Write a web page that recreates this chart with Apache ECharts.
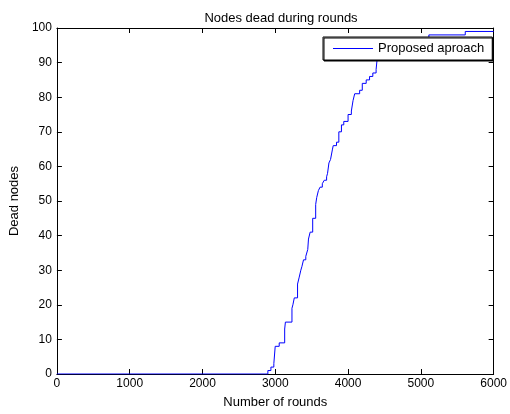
<!DOCTYPE html>
<html>
<head>
<meta charset="utf-8">
<script src="https://cdn.jsdelivr.net/npm/echarts@6/dist/echarts.min.js"></script>
<style>
  html, body { margin: 0; padding: 0; background: #fff; }
  #main { width: 510px; height: 414px; }
</style>
</head>
<body>
<div id="main"></div>
<script>
// round at which the dead-node count steps up, and the new count
const rounds = [0, 2898, 2940, 2980, 2999, 3054, 3129, 3139, 3229, 3242, 3261, 3306, 3329, 3351, 3365, 3388,
  3419, 3446, 3456, 3479, 3514, 3555, 3569, 3592, 3615, 3646, 3673, 3705, 3718, 3737, 3759, 3786, 3796,
  3841, 3873, 3909, 3941, 4000, 4045, 4068, 4091, 4159, 4195, 4249, 4295, 4340, 4385, 4399,
  4450, 4530, 4620, 4720, 4840, 4970, 5110, 5610, 6000]
const deadNodes = [0, 1, 2, 3, 8, 9, 13, 15, 19, 20, 22, 26, 28, 30, 31, 33,
  34, 36, 39, 41, 45, 49, 51, 53, 54, 55, 56, 57, 58, 61, 62, 65, 66,
  67, 70, 72, 73, 75, 76, 79, 81, 82, 84, 85, 86, 87, 88, 91,
  92, 93, 94, 95, 96, 97, 98, 99, 99]
const xTicks = [0, 1000, 2000, 3000, 4000, 5000, 6000]
const yTicks = [0, 10, 20, 30, 40, 50, 60, 70, 80, 90, 100]

const font = 'Liberation Sans, Arial, sans-serif'
const axisBase = {
  axisLine: { show: true, onZero: false, lineStyle: { color: '#000', width: 1 } },
  axisTick: { show: true, inside: true, length: 5, lineStyle: { color: '#000' } },
  splitLine: { show: false }
}

let myChart = echarts.init(document.getElementById('main'))

myChart.setOption({
  animation: false,
  backgroundColor: '#fff',
  title: {
    text: 'Nodes dead during rounds',
    left: 276, top: 7, textAlign: 'center',
    textStyle: { fontFamily: font, fontSize: 13, fontWeight: 'normal', color: '#000' }
  },
  legend: {
    data: ['Proposed aproach'],
    left: 323, top: 37,
    padding: [5, 8, 5, 10],
    icon: 'rect',
    itemWidth: 40, itemHeight: 1, itemGap: 5,
    borderColor: '#000', borderWidth: 1,
    backgroundColor: '#fff',
    shadowColor: '#000', shadowOffsetX: 1, shadowOffsetY: 1, shadowBlur: 0,
    textStyle: { fontFamily: font, fontSize: 13, color: '#000' }
  },
  grid: { left: 55, right: 13, top: 28, bottom: 37, containLabel: false },
  xAxis: [
    Object.assign({}, axisBase, {
      type: 'value', min: 0, max: 6000, interval: 1000, position: 'bottom',
      name: 'Number of rounds', nameLocation: 'middle', nameGap: 22,
      nameTextStyle: { fontFamily: font, fontSize: 13, color: '#000' },
      axisLabel: { fontFamily: font, fontSize: 12, color: '#000', margin: 4,
        formatter: v => xTicks.includes(v) ? String(v) : '' }
    }),
    Object.assign({}, axisBase, {
      type: 'value', min: 0, max: 6000, interval: 1000, position: 'top',
      axisLabel: { show: false }
    })
  ],
  yAxis: [
    Object.assign({}, axisBase, {
      type: 'value', min: 0, max: 100, interval: 10, position: 'left',
      name: 'Dead nodes', nameLocation: 'middle', nameGap: 33,
      nameTextStyle: { fontFamily: font, fontSize: 13, color: '#000' },
      axisLabel: { fontFamily: font, fontSize: 12, color: '#000', margin: 5,
        formatter: v => yTicks.includes(v) ? String(v) : '' }
    }),
    Object.assign({}, axisBase, {
      type: 'value', min: 0, max: 100, interval: 10, position: 'right',
      axisLabel: { show: false }
    })
  ],
  series: [{
    name: 'Proposed aproach',
    type: 'line',
    step: 'end',
    xAxisIndex: 0, yAxisIndex: 0,
    symbol: 'none',
    color: '#0000ff',
    lineStyle: { color: '#0000ff', width: 1 },
    data: rounds.map((r, i) => [r, deadNodes[i]])
  }]
})
</script>
</body>
</html>
